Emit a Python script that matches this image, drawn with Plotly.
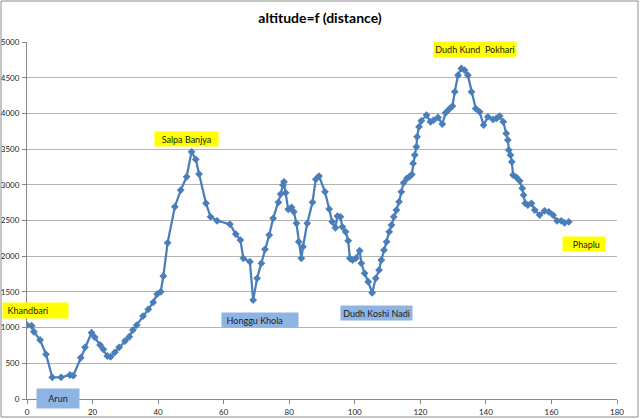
import plotly.graph_objects as go

# distance (km) and altitude (m)
distance = [0, 1.4, 2.1, 4, 5.8, 7.7, 10.4, 13.1, 14.1, 16.4, 17.7, 19.7, 20.7, 22.3, 23.3,
            24.5, 25.5, 26.8, 28.1, 29.9, 31.2, 32.3, 33.5, 35.4, 37, 38.5, 39.7, 40.8, 41.6,
            42.9, 45.1, 46.9, 48.7, 50.2, 51.5, 52.5, 54.6, 56, 58, 61.9, 63.7, 65.1, 66, 68,
            69, 70.2, 71.5, 72.6, 73.9, 75.1, 76.7, 77.4, 78.1, 78.4, 78.9, 79.7, 80.7, 81.4,
            82.2, 82.9, 83.7, 84.2, 85.5, 87.1, 88.1, 89.1, 90.9, 92.2, 93.1, 94.1, 94.7, 95.6,
            96.2, 97.2, 98, 98.5, 99.3, 100.3, 101.5, 102, 103, 104.1, 105.3, 106.4, 107.4,
            108.1, 108.9, 109.7, 110.5, 111.2, 111.9, 112.7, 113.5, 114.2, 114.9, 115.9, 116.6,
            117.4, 117.8, 118.3, 118.8, 119, 119.6, 120.3, 121.9, 123.1, 124.1, 125.4, 126.7,
            127.7, 128.7, 129.8, 130.5, 131.5, 132.5, 133.5, 134.5, 135.6, 136.9, 138.1, 139.3,
            140.6, 142.2, 143.2, 144.2, 145.3, 146.2, 146.7, 147, 147.5, 147.9, 148.3, 149.3,
            150.3, 151.1, 151.5, 152, 152.8, 153.9, 154.9, 156.4, 157.9, 159.2, 160.5, 161.7,
            163, 164, 165.3]
altitude = [1036, 1026, 942, 826, 626, 304, 304, 336, 326, 578, 724, 928, 864, 756, 696,
            602, 592, 654, 724, 812, 872, 966, 1036, 1162, 1256, 1354, 1470, 1502, 1722,
            2188, 2692, 2926, 3112, 3462, 3356, 3150, 2740, 2552, 2496, 2448, 2310, 2226, 1970, 1922,
            1386, 1690, 1900, 2096, 2296, 2530, 2754, 2870, 2996, 3042, 2888, 2656, 2684, 2622,
            2460, 2202, 1970, 2132, 2460, 2754, 3076, 3122, 2902, 2660, 2482, 2398, 2562, 2552,
            2412, 2342, 2216, 1970, 1946, 1970, 2076, 1900, 1760, 1642, 1488, 1690, 1806,
            1946, 2086, 2202, 2342, 2436, 2552, 2646, 2762, 2902, 3028, 3090, 3110,
            3145, 3300, 3416, 3532, 3672, 3812, 3896, 3976, 3882, 3906, 3944, 3850,
            4008, 4056, 4102, 4302, 4536, 4630, 4606, 4536, 4302, 4068, 4022, 3836,
            3952, 3916, 3930, 3962, 3882, 3720, 3626, 3486, 3416, 3322, 3136, 3104,
            3056, 2950, 2856, 2740, 2716, 2740, 2646, 2576, 2636, 2622, 2576, 2496,
            2496, 2468, 2482]

place_names = ['Khandbari', 'Arun', 'Salpa Banjya', 'Honggu Khola', 'Dudh Koshi Nadi',
               'Dudh Kund  Pokhari', 'Phaplu']
place_x = [2.6, 9.5, 48.7, 71.1, 106.6, 136.7, 169.9]
place_y = [1240, 7, 3642, 1106, 1205, 4895, 2171]

YELLOW = '#FFFF00'
BLUE = '#8EB4E3'
box_color = [YELLOW, BLUE, YELLOW, BLUE, BLUE, YELLOW, YELLOW]
box_w = [65, 42, 63, 76, 71, 82, 42]
box_h = [15, 19, 14, 14, 14, 15, 14]
box_align = ['left', 'center', 'center', 'left', 'center', 'center', 'center']
box_pad = ['&nbsp;&nbsp;', '', '', '&nbsp;&nbsp;', '', '', '&nbsp;&nbsp;']

FONT = 'Lato, Liberation Sans, sans-serif'

fig = go.Figure()
fig.add_trace(go.Scatter(
    x=distance, y=altitude, mode='lines+markers',
    line=dict(color='#4A7EBB', width=2.25),
    marker=dict(symbol='diamond', size=6, color='#4A7EBB'),
    showlegend=False,
))

for name, x, y, c, w, h, a, p in zip(place_names, place_x, place_y, box_color,
                                     box_w, box_h, box_align, box_pad):
    fig.add_annotation(
        x=x, y=y, xref='x', yref='y', text=p + name, showarrow=False,
        bgcolor=c, width=w, height=h, borderpad=0, align=a,
        xanchor='center', yanchor='middle',
        font=dict(family=FONT, size=9, color='#1a1a1a'),
    )

# grey chart-area border
fig.add_shape(type='rect', xref='paper', yref='paper',
              x0=-26 / 590, x1=611 / 590, y0=-18 / 357, y1=398 / 357,
              line=dict(color='#8c8c8c', width=1), fillcolor='rgba(0,0,0,0)', layer='above')

fig.update_layout(
    width=640, height=419,
    margin=dict(l=27, r=23, t=42, b=20, autoexpand=False),
    paper_bgcolor='white', plot_bgcolor='white',
    title=dict(text='<b>altitude=f (distance)</b>', x=0.5, xanchor='center',
               y=0.957, yanchor='middle', font=dict(family=FONT, size=14, color='black')),
    font=dict(family=FONT, size=8, color='#222'),
)
fig.update_xaxes(
    range=[0, 180], dtick=20, tick0=0, showgrid=False, zeroline=False, automargin=False,
    showline=True, linecolor='#868686', linewidth=1,
    ticks='outside', ticklen=4, tickcolor='#868686', ticklabelstandoff=1,
)
fig.update_yaxes(
    range=[0, 5000], dtick=500, tick0=0, showgrid=True, gridcolor='#B3B3B3', gridwidth=1,
    zeroline=False, showline=True, linecolor='#868686', linewidth=1, automargin=False,
    ticks='outside', ticklen=4, tickcolor='#868686', ticklabelstandoff=1,
)

fig.write_html('out.html', config={'displayModeBar': False},
               post_script="document.body.style.margin='0px';")
